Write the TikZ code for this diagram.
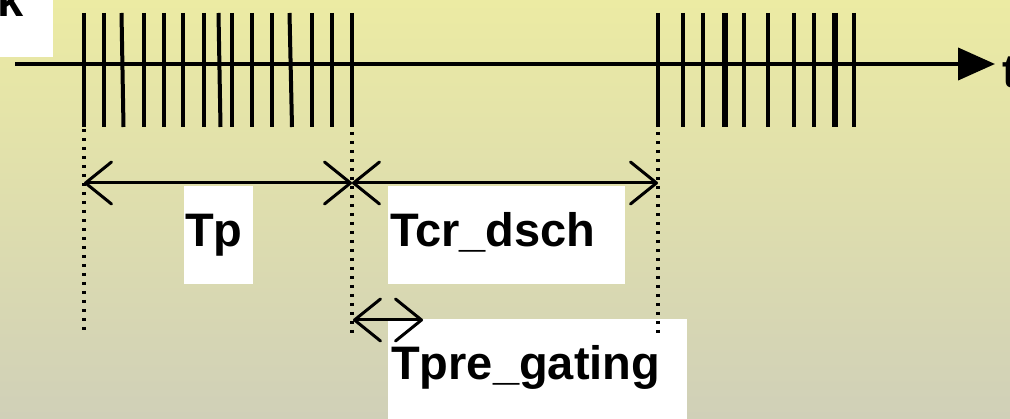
\documentclass[tikz,border=0pt]{standalone}
\usepackage{fontspec}
\setmainfont{Liberation Sans}
\usetikzlibrary{arrows.meta}
\definecolor{bgtop}{RGB}{236,235,163}
\definecolor{bgbot}{RGB}{208,208,184}
\begin{document}
\begin{tikzpicture}[x=1pt,y=-1pt,
  pulse/.style={line width=4pt},
  thickpulse/.style={line width=5.5pt},
  axisline/.style={line width=4pt,-{Triangle[length=37pt,width=32pt]}},
  guide/.style={line width=3.5pt,dash pattern=on 3.5pt off 5.5pt},
  dim/.style={line width=3pt,
    {Straight Barb[length=26pt,width=42pt,round]}-{Straight Barb[length=26pt,width=42pt,round]}},
  whitebox/.style={fill=white,draw=none,inner sep=0pt,anchor=north west},
  lbl/.style={font=\bfseries\fontsize{47}{51}\selectfont,inner sep=0pt,anchor=base west}]
\useasboundingbox (0,0) rectangle (1010,419);
\shade[top color=bgtop,bottom color=bgbot] (0,0) rectangle (1010,419);

% label boxes
\node[whitebox,minimum width=53pt,minimum height=57pt] (kbox) at (0,0) {};
\node[lbl] (k) at (-3,17) {k};
\node[whitebox,minimum width=69pt,minimum height=98pt] (tpbox) at (184,186) {};
\node[whitebox,minimum width=237pt,minimum height=98pt] (tcrbox) at (388,186) {};
\node[whitebox,minimum width=299pt,minimum height=110pt] (tprebox) at (388,319) {};

% guides
\coordinate (g1a) at (84,120);  \coordinate (g1b) at (84,333);
\coordinate (g2a) at (352,78);  \coordinate (g2b) at (352,335);
\coordinate (g3a) at (658,78);  \coordinate (g3b) at (658,335);
\draw[guide] (g1a) -- (g1b);
\draw[guide] (g2a) -- (g2b);
\draw[guide] (g3a) -- (g3b);

% axis
\coordinate (ax0) at (15,64);
\coordinate (ax1) at (995,64);
\draw[axisline] (ax0) -- (ax1);
\node[lbl] (t) at (1002,88) {t};

% first burst
\foreach \xa/\xb in {84/84,104/104,121.5/123.5,144/144,164/164,183/183,204/204,218.5/220.5,232/232,252/252,272/272,289.5/292,312/312,332/332,352/352}
  \draw[pulse] (\xa,13) -- (\xb,127);
% second burst
\foreach \xa in {658,683,703,744,768,794,814,854}
  \draw[pulse] (\xa,13) -- (\xa,127);
\foreach \xa in {725,835}
  \draw[thickpulse] (\xa,13) -- (\xa,127);

% dimension arrows
\coordinate (a1) at (84,183);
\coordinate (a2) at (352,183);
\coordinate (a3) at (658,183);
\coordinate (b1) at (353,320);
\coordinate (b2) at (423,320);
\draw[dim] (a1) -- (a2);
\draw[dim] (a2) -- (a3);
\draw[dim] (b1) -- (b2);

% labels
\node[lbl] (tp) at (185,247) {Tp};
\node[lbl] (tcr) at (390,247) {Tcr\_dsch};
\node[lbl] (tpre) at (391,380) {Tpre\_gating};
\end{tikzpicture}
\end{document}
